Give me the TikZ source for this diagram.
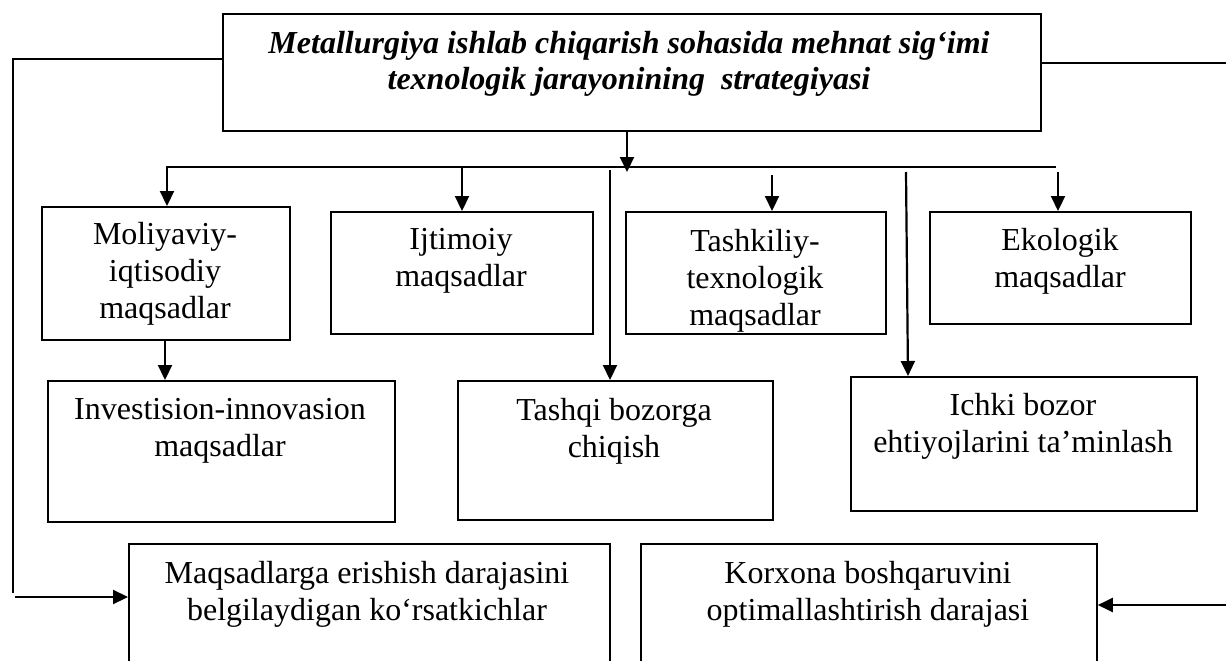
\documentclass[tikz,border=0pt]{standalone}
\usepackage{fontspec}
\setmainfont{Liberation Serif}
\usetikzlibrary{arrows.meta}
\begin{document}
\begin{tikzpicture}[x=1pt,y=-1pt,
 box/.style={draw, line width=1.8pt, anchor=north west, inner sep=0pt},
 lbl/.style={font=\fontsize{32}{36.8}\selectfont, align=center, inner sep=0pt, anchor=center},
 ttl/.style={font=\fontsize{32}{36}\selectfont\bfseries\itshape, align=center, inner sep=0pt, anchor=center},
 arr/.style={line width=2.2pt, -{Triangle[length=15pt,width=14pt]}},
 fb/.style={line width=1.2pt},
]
\useasboundingbox (0,0) rectangle (1226,661);
\clip (0,0) rectangle (1226,661);
% boxes
\node[box, minimum width=818pt, minimum height=117pt] (top) at (222,13) {};
\node[box, minimum width=248pt, minimum height=133pt] (mol) at (41,206) {};
\node[box, minimum width=262pt, minimum height=122pt] (ijt) at (330,211) {};
\node[box, minimum width=260pt, minimum height=122pt] (tash) at (625,211) {};
\node[box, minimum width=261pt, minimum height=112pt] (eko) at (929,211) {};
\node[box, minimum width=347pt, minimum height=141pt] (inv) at (47,380) {};
\node[box, minimum width=315pt, minimum height=139pt] (tsq) at (457,380) {};
\node[box, minimum width=346pt, minimum height=134pt] (ich) at (850,376) {};
\node[box, minimum width=481pt, minimum height=160pt] (maq) at (128,543) {};
\node[box, minimum width=456pt, minimum height=160pt] (kor) at (640,543) {};
% texts
\node[ttl] (topt) at (629,64) {Metallurgiya ishlab chiqarish sohasida mehnat sig‘imi\\texnologik jarayonining\ \ strategiyasi};
\node[lbl] (molt) at (165,274) {Moliyaviy-\\iqtisodiy\\maqsadlar};
\node[lbl] (ijtt) at (461,261) {Ijtimoiy\\maqsadlar};
\node[lbl] (tasht) at (755,281) {Tashkiliy-\\texnologik\\maqsadlar};
\node[lbl] (ekot) at (1060,261) {Ekologik\\maqsadlar};
\node[lbl] (invt) at (220,431) {Investision-innovasion\\maqsadlar};
\node[lbl] (tsqt) at (614,431) {Tashqi bozorga\\chiqish};
\node[lbl] (icht) at (1023,426) {Ichki bozor\\ehtiyojlarini ta’minlash};
\node[lbl] (maqt) at (367,594) {Maqsadlarga erishish darajasini\\belgilaydigan ko‘rsatkichlar};
\node[lbl] (kort) at (868,594) {Korxona boshqaruvini\\optimallashtirish darajasi};
% bus
\coordinate (busL) at (166,167);
\coordinate (busR) at (1056,167);
\draw[line width=1.5pt] (busL) -- (busR);
\coordinate (t0) at (627,130);
\draw[arr] (t0 |- top.south) -- (627,172);
\coordinate (a1) at (167,167);
\coordinate (a2) at (462,167);
\coordinate (a3) at (772,175);
\coordinate (a4) at (1058,172);
\coordinate (a5) at (610,170);
\coordinate (a6) at (906,172);
\draw[arr] (a1) -- (a1 |- mol.north);
\draw[arr] (a2) -- (a2 |- ijt.north);
\draw[arr] (a3) -- (a3 |- tash.north);
\draw[arr] (a4) -- (a4 |- eko.north);
\draw[arr] (a5) -- (a5 |- tsq.north);
\draw[arr] (a6) -- ([xshift=2pt]a6 |- ich.north);
\coordinate (m1) at (165,339);
\draw[arr] (m1 |- mol.south) -- (m1 |- inv.north);
% feedback left
\coordinate (l1) at (13,59);
\coordinate (l2) at (13,593);
\coordinate (l3) at (15,597);
\draw[fb] (top.west |- l1) -- (l1) -- (l2);
\draw[arr] (l3) -- (l3 -| maq.west);
% right
\coordinate (r1) at (1226,63);
\coordinate (r2) at (1226,605);
\draw[fb] (top.east |- r1) -- (r1);
\draw[arr] (r2) -- (r2 -| kor.east);
\end{tikzpicture}
\end{document}
